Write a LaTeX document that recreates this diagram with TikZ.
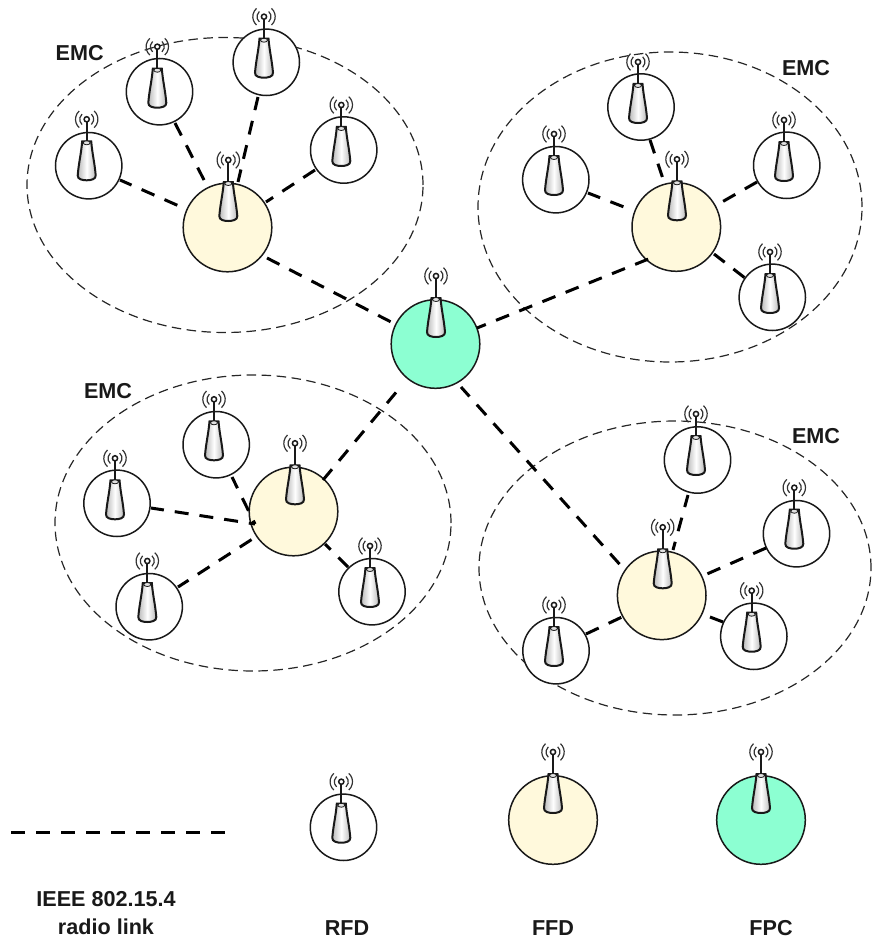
\documentclass[tikz,border=0pt]{standalone}
\usepackage{fontspec}
\setmainfont{Liberation Sans}
\usetikzlibrary{shapes.geometric}
\definecolor{hubcol}{HTML}{FFF9DC}
\definecolor{fpccol}{HTML}{8CFFD2}
\newcommand{\lnk}[5]{\draw[link,dash phase=#5pt] ([shift={(#2)}]#1.center) -- ([shift={(#4)}]#3.center);}
\tikzset{
  x=1pt,y=-1pt,
  rfd/.style={circle,draw=black!90,line width=1.5pt,fill=white,minimum size=66.4pt,inner sep=0pt},
  ffd/.style={circle,draw=black!90,line width=1.5pt,fill=hubcol,minimum size=88.6pt,inner sep=0pt},
  fpc/.style={circle,draw=black!90,line width=1.5pt,fill=fpccol,minimum size=88.6pt,inner sep=0pt},
  area/.style={ellipse,draw=black!85,line width=1.2pt,dash pattern=on 9.5pt off 5.5pt,inner sep=0pt},
  link/.style={draw=black,line width=3pt,dash pattern=on 14pt off 11pt},
  lab/.style={font=\bfseries\fontsize{21.6pt}{28pt}\selectfont,text=black!90,align=center,inner sep=0pt},
  pics/antenna/.style={code={
    \path[draw=black!90,line width=2pt,left color=black!28,right color=black!28,middle color=white]
      (-4.5,22) -- (4.5,22) to[out=-85,in=95] (9,56) to[out=-85,in=0] (0,61) to[out=180,in=-95] (-9,56) to[out=85,in=-95] cycle;
    \draw[black!90,line width=0.8pt,fill=black!12] (0,23.5) ellipse (3.5 and 2);
    \draw[black!90,line width=1.8pt] (0,0) -- (0,22);
    \draw[black!90,line width=1.5pt,fill=white] (0,0) circle (2.6);
    \foreach \r in {7,11.2}{
      \draw[black!80,line width=1.2pt] (-48:\r) arc[start angle=-48,end angle=48,radius=\r];
      \draw[black!80,line width=1.2pt] (132:\r) arc[start angle=132,end angle=228,radius=\r];
    }
  }}
}
\begin{document}
\begin{tikzpicture}
\useasboundingbox (0,0) rectangle (871,939);
% EMC areas
\node[area,minimum width=396pt,minimum height=295pt] (area1) at (225,185) {};
\node[area,minimum width=384pt,minimum height=310pt] (area2) at (670,207) {};
\node[area,minimum width=396pt,minimum height=296pt] (area3) at (253,523) {};
\node[area,minimum width=392pt,minimum height=294pt] (area4) at (675,568) {};
% devices
\node[fpc] (n0) at (435.5,344) {};
\node[ffd] (n1) at (227.5,227.5) {};
\node[ffd] (n2) at (676.3,227) {};
\node[ffd] (n3) at (293.5,511.5) {};
\node[ffd] (n4) at (661.7,595.3) {};
\foreach \n/\x/\y in {a1/88.7/165.7,a2/159.5/91.7,a3/266.3/62.3,a4/343.7/150,
  b1/555.8/179.7,b2/641/107,b3/786.7/165.3,b4/772.3/297.3,
  d1/216.2/444.7,d2/117/503.3,d3/149.2/606.7,d4/372/591.7,
  e1/697.5/460,e2/796.5/533.7,e3/753.8/636.3,e4/556/650.7}
  \node[rfd] (\n) at (\x,\y) {};
% links
\lnk{a1}{31.3,14.3}{n1}{-48.5,-21.5}{1.4}
\lnk{a2}{15.5,31.3}{n1}{-22.5,-45.5}{0}
\lnk{a3}{-8.3,34.7}{n1}{10.5,-45.5}{0.5}
\lnk{a4}{-28.7,20}{n1}{38.5,-25.5}{0}
\lnk{n1}{39.5,30.5}{n0}{-42.5,-21}{0}
\lnk{b1}{32.2,13.3}{n2}{-52.3,-20}{1}
\lnk{b2}{9,33}{n2}{-13.3,-48}{0}
\lnk{b3}{-29.7,16.7}{n2}{45.7,-25}{0}
\lnk{n2}{37.7,27}{b4}{-27.3,-19.3}{0.5}
\lnk{n0}{41.5,-16}{n2}{-25.3,31}{4.5}
\lnk{d1}{15.8,32.3}{n3}{-38.5,12.5}{1.5}
\lnk{d2}{34,4.7}{n3}{-38.5,12.5}{1}
\lnk{d3}{28.8,-19.7}{n3}{-39.5,26.5}{1.5}
\lnk{n3}{31.5,32.5}{d4}{-24,-24.7}{6}
\lnk{n3}{29.5,-31.5}{n0}{-37.5,46}{0}
\lnk{n0}{25.5,43}{n4}{-38.7,-27.3}{1.3}
\lnk{e1}{-9.5,35}{n4}{11.3,-45.3}{1.5}
\lnk{e2}{-30.5,14.3}{n4}{45.3,-21.3}{0}
\lnk{n4}{48.3,21.7}{e3}{-30.8,-14.3}{0}
\lnk{e4}{30,-16.7}{n4}{-39.7,21.7}{0}
% antennas
\foreach \x/\y in {436/276,228.3/160,677/159.3,295/443.3,662.7/527.3,
  86.7/119.3,157.3/46.7,264/16.7,341.3/105,
  554/134,638/62,784/120,770/252,
  214/399.3,115/458.3,147.3/561,370/546,
  696/414,794.3/487.7,751.7/590.7,554/605}
  \pic at (\x,\y) {antenna};
% legend
\node[rfd] (lr) at (343.5,827.3) {};
\node[ffd] (lf) at (553,820) {};
\node[fpc] (lp) at (761,820) {};
\pic at (341.3,781.7) {antenna};
\pic at (553,752) {antenna};
\pic at (761,752) {antenna};
\coordinate (ls) at (11,832.7);
\coordinate (le) at (227,832.7);
\draw[link] (ls) -- (le);
% labels
\node[lab] (t1) at (79.7,53) {EMC};
\node[lab] (t2) at (806,68) {EMC};
\node[lab] (t3) at (108,391) {EMC};
\node[lab] (t4) at (816,436) {EMC};
\node[lab] (t5) at (106,913) {IEEE 802.15.4\\radio link};
\node[lab] (t6) at (347,928) {RFD};
\node[lab] (t7) at (553,928) {FFD};
\node[lab] (t8) at (771,928) {FPC};
\end{tikzpicture}
\end{document}
